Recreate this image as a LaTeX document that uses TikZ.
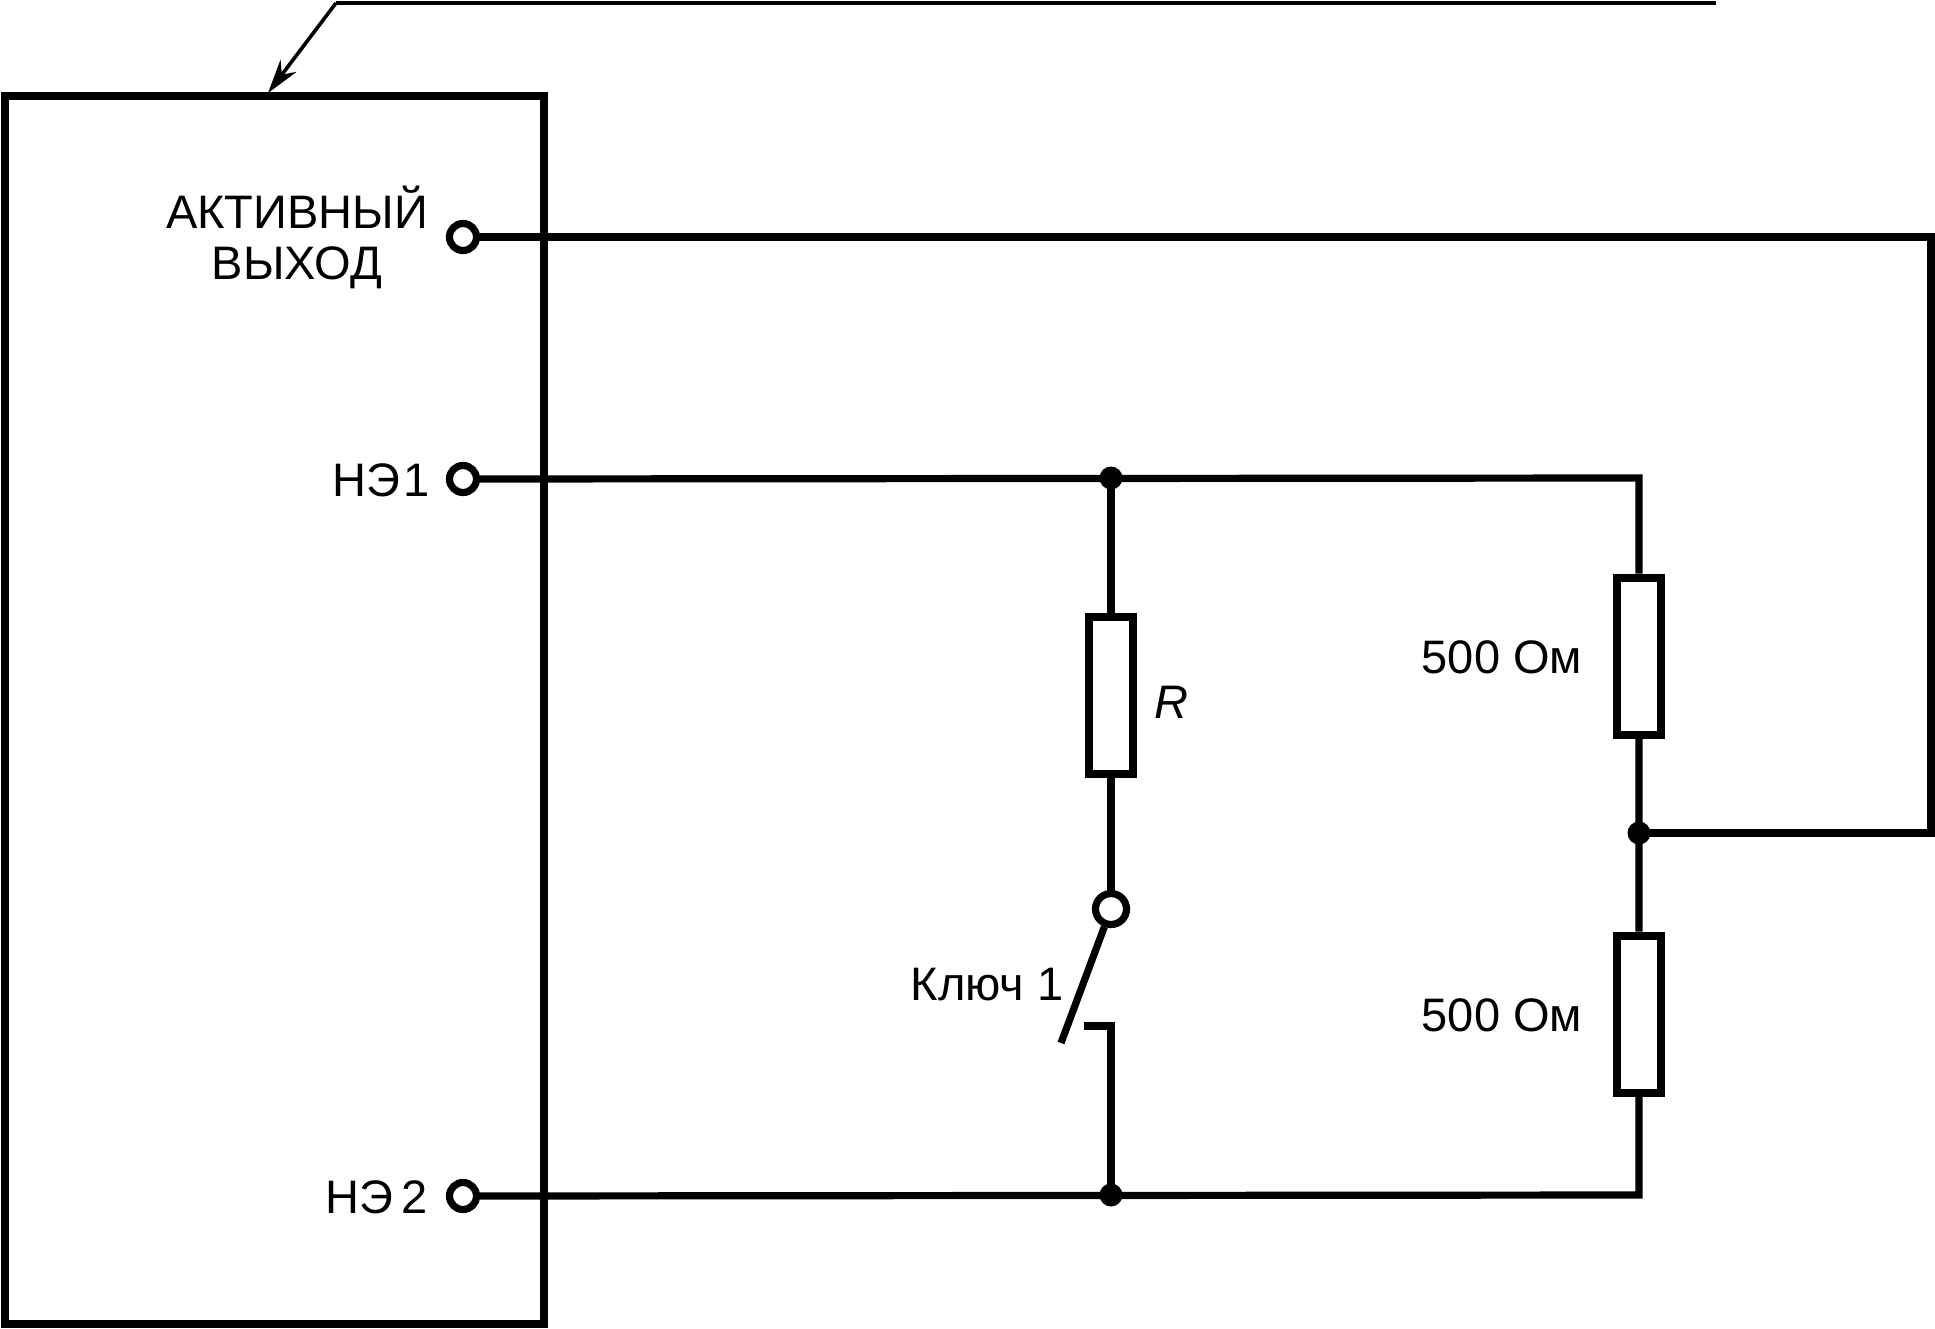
\documentclass[tikz,border=0pt]{standalone}
\usepackage{fontspec}
\setmainfont{Liberation Sans}
\usetikzlibrary{arrows.meta}
\tikzset{
  wire/.style={line width=3.6pt},
  lead/.style={line width=1.8pt},
  blockbox/.style={draw,line width=4.4pt,minimum width=269.5pt,minimum height=614pt,inner sep=0pt},
  resistor/.style={draw,line width=4pt,fill=white,minimum width=22pt,minimum height=78.5pt,inner sep=0pt},
  terminal/.style={circle,draw,line width=3.6pt,fill=white,minimum size=13.5pt,inner sep=0pt},
  junction/.style={circle,fill=black,minimum size=11.5pt,inner sep=0pt,outer sep=-1pt},
  label/.style={font=\fontsize{23.5}{25.5}\selectfont,inner sep=0pt},
}
\begin{document}
\begin{tikzpicture}[x=0.5pt,y=-0.5pt]
  \useasboundingbox (0,0) rectangle (1935,1329);
  \node[blockbox] (block) at (274.5,710) {};
  \node[terminal] (tout) at (463,237) {};
  \node[terminal] (t1) at (463,479) {};
  \node[terminal] (t2) at (463,1196) {};
  \node[label,align=center] (lout) at (297,237) {АКТИВНЫЙ\\ВЫХОД};
  \node[label,anchor=east] (l1) at (430,480) {НЭ\kern1.5pt 1};
  \node[label,anchor=east] (l2) at (428,1197) {НЭ\,2};
  \node[junction] (j1) at (1111,478) {};
  \node[junction] (j2) at (1111,1195) {};
  \node[junction] (j3) at (1639,833) {};
  \node[resistor] (r) at (1111,695) {};
  \node[resistor] (r1) at (1639,656) {};
  \node[resistor] (r2) at (1639,1014) {};
  \node[terminal,minimum size=15.5pt] (sw) at (1111,909) {};
  \node[label] (lr) at (1171,702) {\itshape R};
  \node[label] (lsw) at (987,985) {Ключ 1};
  \node[label] (lr1) at (1502,657) {500 Ом};
  \node[label] (lr2) at (1502,1015) {500 Ом};
  \coordinate (c1) at (1931,235);
  \coordinate (c2) at (1931,833);
  \coordinate (c3) at (1639,478);
  \coordinate (c4) at (1639,1195);
  \coordinate (b1) at (1061,1043);
  \coordinate (k1) at (1111,1026);
  \coordinate (k2) at (1084,1026);
  \coordinate (a1) at (336,3);
  \coordinate (a2) at (1716,3);
  \coordinate (a3) at (268,93);
  \draw[wire] (tout) -- (tout -| c1) -- (c2) -- (j3);
  \draw[wire] (t1) -- (c3) -- (r1) -- (j3) -- (r2) -- (c4) -- (t2);
  \draw[wire] (j1) -- (r) -- (sw);
  \draw[wire] (sw) -- (b1);
  \draw[wire] (k2) -- (k1) -- (j2);
  \draw[lead,line width=2.2pt] (a2) -- (a1);
  \draw[lead,-{Stealth[length=17pt,width=10pt]}] (a1) -- (a3);
\end{tikzpicture}
\end{document}
